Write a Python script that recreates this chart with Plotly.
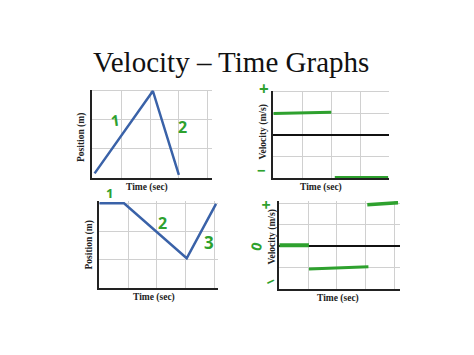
import plotly.graph_objects as go

W, H = 474, 355

# ---- data ----
pos1_t = [0.08, 2.1, 3.0]
pos1_x = [0.15, 3.0, 0.1]

vel1a_t = [0.0, 2.0]
vel1a_v = [1.0, 1.05]
vel1b_t = [2.12, 3.96]
vel1b_v = [-1.97, -1.97]

pos2_t = [0.0, 0.86, 3.04, 4.06]
pos2_x = [3.0, 3.0, 1.06, 2.98]

vel2a_t = [0.0, 1.03]
vel2a_v = [0.03, 0.03]
vel2b_t = [1.03, 3.1]
vel2b_v = [-1.07, -0.97]
vel2c_t = [3.06, 4.13]
vel2c_v = [1.92, 2.02]

pos_ticks = [0, 1, 2, 3]
vel_ticks = [-2, -1, 0, 1, 2]
time_ticks = [0, 1, 2, 3, 4]

BLUE = "#3a62a8"
GREEN = "#2ea12e"
GRID = "#d0d0d0"

def px(x):
    return x / W

def py(y):
    return 1 - y / H

fig = go.Figure()

panels = [
    dict(x0=92.3, colw=28.85, xr=[0, 4.15], yref_pix=177.7, rowh=28.9, yr=[0, 3.05], ticks=pos_ticks, vel=False),
    dict(x0=273.3, colw=29.0, xr=[0, 4.0], yref_pix=135.0, rowh=21.6, yr=[-2, 2.05], ticks=vel_ticks, vel=True),
    dict(x0=99.3, colw=28.75, xr=[0, 4.12], yref_pix=288.3, rowh=28.33, yr=[0, 3.08], ticks=pos_ticks, vel=False),
    dict(x0=279.3, colw=28.75, xr=[0, 4.2], yref_pix=246.0, rowh=21.45, yr=[-2, 2.1], ticks=vel_ticks, vel=True),
]

layout = {}
for i, p in enumerate(panels, start=1):
    left = p["x0"] + p["xr"][0] * p["colw"]
    right = p["x0"] + p["xr"][1] * p["colw"]
    bottom = p["yref_pix"] - p["yr"][0] * p["rowh"]
    top = p["yref_pix"] - p["yr"][1] * p["rowh"]
    sfx = "" if i == 1 else str(i)
    layout["xaxis" + sfx] = dict(
        domain=[px(left), px(right)], range=p["xr"], anchor="y" + sfx,
        tickvals=time_ticks, showticklabels=False, ticks="",
        showgrid=True, gridcolor=GRID, gridwidth=1, zeroline=False,
        showline=True, linecolor="#222", linewidth=2, fixedrange=True,
    )
    layout["yaxis" + sfx] = dict(
        domain=[py(bottom), py(top)], range=p["yr"], anchor="x" + sfx,
        tickvals=p["ticks"], showticklabels=False, ticks="",
        showgrid=True, gridcolor=GRID, gridwidth=1,
        zeroline=p["vel"], zerolinecolor="#111", zerolinewidth=2,
        showline=True, linecolor="#222", linewidth=2, fixedrange=True,
    )

fig.add_trace(go.Scatter(x=pos1_t, y=pos1_x, mode="lines", line=dict(color=BLUE, width=2.5), xaxis="x", yaxis="y"))
fig.add_trace(go.Scatter(x=vel1a_t, y=vel1a_v, mode="lines", line=dict(color=GREEN, width=3), xaxis="x2", yaxis="y2"))
fig.add_trace(go.Scatter(x=vel1b_t, y=vel1b_v, mode="lines", line=dict(color=GREEN, width=3), xaxis="x2", yaxis="y2"))
fig.add_trace(go.Scatter(x=pos2_t, y=pos2_x, mode="lines", line=dict(color=BLUE, width=2.5), xaxis="x3", yaxis="y3"))
fig.add_trace(go.Scatter(x=vel2a_t, y=vel2a_v, mode="lines", line=dict(color=GREEN, width=4), xaxis="x4", yaxis="y4"))
fig.add_trace(go.Scatter(x=vel2b_t, y=vel2b_v, mode="lines", line=dict(color=GREEN, width=3), xaxis="x4", yaxis="y4"))
fig.add_trace(go.Scatter(x=vel2c_t, y=vel2c_v, mode="lines", line=dict(color=GREEN, width=3.5), xaxis="x4", yaxis="y4"))

def ann(text, x, y, size=9.5, color="#222", angle=0, family="Liberation Serif", bold=False):
    if bold:
        text = "<b>" + text + "</b>"
    return dict(text=text, x=px(x), y=py(y), xref="paper", yref="paper",
                xanchor="center", yanchor="middle", showarrow=False,
                textangle=angle, font=dict(family=family, size=size, color=color))

hand = "Open Sans"
annotations = [
    ann("Velocity – Time Graphs", 231, 62, size=29, color="#111"),
    ann("Position (m)", 82, 138, angle=-90, bold=True),
    ann("Time (sec)", 147, 187, bold=True),
    ann("Velocity (m/s)", 263.5, 132, angle=-90, bold=True),
    ann("Time (sec)", 321, 187.5, bold=True),
    ann("Position (m)", 88.5, 245, angle=-90, bold=True),
    ann("Time (sec)", 154, 297.5, bold=True),
    ann("Velocity (m/s)", 271.5, 237, angle=-90, bold=True),
    ann("Time (sec)", 338, 298.5, bold=True),
    # handwritten marks
    ann("1", 115, 120, size=15, color=GREEN, family=hand, angle=-8, bold=True),
    ann("2", 182, 127, size=16, color=GREEN, family=hand, bold=True),
    ann("+", 263.5, 88, size=17, color=GREEN, family=hand, bold=True),
    ann("−", 261.5, 170, size=15, color=GREEN, family=hand, bold=True),
    ann("1", 109, 193, size=13, color=GREEN, family=hand, bold=True),
    ann("2", 162, 223, size=16, color=GREEN, family=hand, bold=True),
    ann("3", 208.5, 242, size=17, color=GREEN, family=hand, bold=True),
    ann("+", 265.5, 205, size=16, color=GREEN, family=hand, angle=-90, bold=True),
    ann("0", 256, 246.5, size=14, color=GREEN, family=hand, angle=-75, bold=True),
    ann("−", 270, 281, size=15, color=GREEN, family=hand, angle=-25, bold=True),
]

fig.update_layout(
    width=W, height=H, margin=dict(l=0, r=0, t=0, b=0),
    paper_bgcolor="white", plot_bgcolor="white",
    showlegend=False, annotations=annotations, **layout,
)

fig.write_html("out.html", config=dict(displayModeBar=False))
